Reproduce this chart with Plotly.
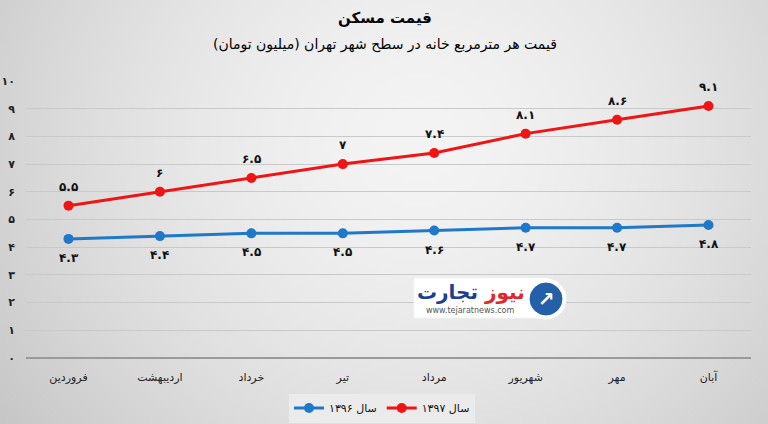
import base64, struct, zlib
import numpy as np
import plotly.graph_objects as go

# ---------------- data ----------------
months = ["فروردین", "اردیبهشت", "خرداد", "تیر", "مرداد", "شهریور", "مهر", "آبان"]
values_1396 = [4.3, 4.4, 4.5, 4.5, 4.6, 4.7, 4.7, 4.8]
values_1397 = [5.5, 6, 6.5, 7, 7.4, 8.1, 8.6, 9.1]
series_names = ["سال ۱۳۹۶", "سال ۱۳۹۷"]
y_ticks = list(range(0, 11))
title_text = "قیمت مسکن"
subtitle_text = "قیمت هر مترمربع خانه در سطح شهر تهران (میلیون تومان)"

FA = str.maketrans("0123456789", "۰۱۲۳۴۵۶۷۸۹")
def fa(v):
    s = ("%g" % v)
    return s.translate(FA)

W, H = 768, 424
L, R, T, B = 26, 17, 81, 66
PW, PH = W - L - R, H - T - B
def px(x):
    return (x - L) / PW
def py(y):
    return (H - B - y) / PH

FONT = "DejaVu Sans"
RED = "#f01414"
BLUE = "#1f78c8"

# ---------------- background gradient (png) ----------------
gw, gh = 192, 106
xs = np.linspace(0, W, gw)[None, :]
ys = np.linspace(0, H, gh)[:, None]
d = np.sqrt(((xs - 420) / 450) ** 2 + ((ys - 140) / 420) ** 2)
img = np.clip(244 - 36 * d ** 1.6, 0, 255).astype(np.uint8)
raw = b"".join(b"\x00" + img[r].tobytes() for r in range(gh))
def chunk(t, data):
    c = struct.pack(">I", len(data)) + t + data
    return c + struct.pack(">I", zlib.crc32(t + data) & 0xffffffff)
png = (b"\x89PNG\r\n\x1a\n" + chunk(b"IHDR", struct.pack(">IIBBBBB", gw, gh, 8, 0, 0, 0, 0))
       + chunk(b"IDAT", zlib.compress(raw, 9)) + chunk(b"IEND", b""))
bg_uri = "data:image/png;base64," + base64.b64encode(png).decode()

fig = go.Figure()
fig.add_trace(go.Scatter(x=months, y=values_1396, mode="lines+markers", name=series_names[0],
                         line=dict(color=BLUE, width=3), marker=dict(size=10, color=BLUE)))
fig.add_trace(go.Scatter(x=months, y=values_1397, mode="lines+markers", name=series_names[1],
                         line=dict(color=RED, width=3), marker=dict(size=10, color=RED)))

def note(x, y, text, size, color="#000000", **kw):
    return dict(x=px(x), y=py(y), xref="paper", yref="paper", text=text, showarrow=False,
                xanchor="center", yanchor="middle", font=dict(family=FONT, size=size, color=color), **kw)

ann = []
for m, v in zip(months, values_1397):
    ann.append(dict(x=m, y=v, xref="x", yref="y", text="<b>" + fa(v) + "</b>", showarrow=False, yshift=19,
                    xanchor="center", yanchor="middle",
                    font=dict(family=FONT, size=12, color="#111111")))
for m, v in zip(months, values_1396):
    ann.append(dict(x=m, y=v, xref="x", yref="y", text="<b>" + fa(v) + "</b>", showarrow=False, yshift=-19,
                    xanchor="center", yanchor="middle",
                    font=dict(family=FONT, size=12, color="#111111")))

ann.append(note(385, 18, "<b>" + title_text + "</b>", 15))
ann.append(note(385, 45, subtitle_text, 14))

# watermark logo
shapes = [dict(type="rect", xref="paper", yref="paper",
               x0=px(414), x1=px(548), y0=py(318), y1=py(278),
               fillcolor="#ffffff", line=dict(color="#f4f4f4", width=1)),
          dict(type="circle", xref="paper", yref="paper",
               x0=px(526), x1=px(566), y0=py(319), y1=py(279),
               fillcolor="#ffffff", line=dict(color="#ffffff", width=1)),
          dict(type="circle", xref="paper", yref="paper",
               x0=px(530), x1=px(562), y0=py(315), y1=py(283),
               fillcolor="#2360a8", line=dict(color="#2360a8", width=1))]
ann.append(note(471, 292, "<b><span style='color:#e3262b'>نیوز</span> <span style='color:#1d3f8f'>تجارت</span></b>", 20))
ann.append(note(470, 310, "www.tejaratnews.com", 8, "#555555"))
ann.append(note(546, 299, "<b>↗</b>", 20, "#ffffff"))

fig.update_layout(
    width=W, height=H,
    margin=dict(l=L, r=R, t=T, b=B),
    paper_bgcolor="#dcdcdc",
    plot_bgcolor="rgba(0,0,0,0)",
    images=[dict(source=bg_uri, xref="paper", yref="paper", x=px(0), y=py(0),
                 sizex=W / PW, sizey=H / PH, sizing="stretch", xanchor="left", yanchor="top",
                 layer="below")],
    shapes=shapes,
    annotations=ann,
    showlegend=True,
    legend=dict(orientation="h", xref="container", yref="container",
                x=382 / W, y=1 - 408 / H, xanchor="center", yanchor="middle",
                bgcolor="#ebebeb", font=dict(family=FONT, size=11, color="#111111"),
                itemwidth=30, tracegroupgap=0),
    xaxis=dict(showgrid=False, tickfont=dict(family=FONT, size=11, color="#222222"),
               ticks="", showline=False, fixedrange=True, automargin=False,
               ticklabelstandoff=11),
    yaxis=dict(range=[0, 10], tickvals=y_ticks, ticktext=["<b>" + fa(v) + "</b>" for v in y_ticks],
               showgrid=True, gridcolor="#c9c9c9", gridwidth=1,
               zeroline=True, zerolinecolor="#9a9a9a", zerolinewidth=1.5,
               tickfont=dict(family=FONT, size=11, color="#222222"),
               ticklabelstandoff=10, showline=False, automargin=False, fixedrange=True),
    font=dict(family=FONT),
)

fig.write_html("out.html", config={"displayModeBar": False},
               post_script="document.body.style.margin='0px';document.body.style.overflow='hidden';")
